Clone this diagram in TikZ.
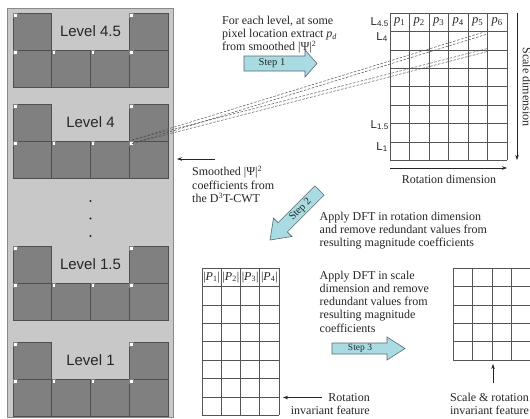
\documentclass[tikz,border=0pt]{standalone}
\usepackage{fontspec}
\setmainfont{Liberation Serif}
\newfontfamily\arialf{Liberation Sans}
\usetikzlibrary{arrows.meta}
\definecolor{panelfill}{HTML}{C8C8C8}
\definecolor{panelline}{HTML}{8A8A8A}
\definecolor{sqfill}{HTML}{808080}
\definecolor{sqline}{HTML}{4F4F4F}
\definecolor{stepfill}{HTML}{A8DCE2}
\definecolor{stepline}{HTML}{5A6A6C}
\definecolor{ink}{HTML}{262626}
\definecolor{gridline}{HTML}{555555}
\tikzset{
 sq/.style={draw=sqline, fill=sqfill, line width=0.7pt},
 mk/.style={draw=gray, fill=white, line width=0.4pt},
 lvl/.style={font=\arialf\fontsize{15}{18}\selectfont, text=ink, inner sep=0pt},
 txt/.style={font=\fontsize{12}{13.3}\selectfont, text=ink, inner sep=0pt, align=left},
 gridl/.style={draw=gridline, line width=0.6pt},
 steparrow/.style={draw=stepline, fill=stepfill, line width=0.6pt},
 steptxt/.style={font=\fontsize{10.5}{12}\selectfont, text=ink, inner sep=0pt},
 conn/.style={draw=ink, line width=0.6pt, -{Stealth[length=5pt,width=3.5pt]}},
 dsh/.style={draw=ink!80, line width=0.5pt, dash pattern=on 2.5pt off 1.5pt},
 lab/.style={font=\arialf\fontsize{11.5}{13}\selectfont, text=ink, inner sep=0pt, anchor=east},
 hdr/.style={font=\fontsize{12.5}{14}\selectfont, text=ink, inner sep=0pt},
}
\newcommand{\levelblock}[3]{%
  \foreach \i in {0,1,2,3} {\draw[sq] (13+\i*38.75,#1+37) rectangle ++(38.75,37);}
  \draw[sq] (13,#1) rectangle ++(38.75,37);
  \draw[sq] (129.25,#1) rectangle ++(38.75,37);
  \foreach \i in {0,1,2,3} {\draw[mk] (13.3+\i*38.75,#1+37.3) rectangle ++(3.6,3.6);}
  \draw[mk] (13.3,#1+0.3) rectangle ++(3.6,3.6);
  \draw[mk] (129.55,#1+0.3) rectangle ++(3.6,3.6);
  \node[lvl] (#2) at (90.5,#1+18.5) {#3};
}
\begin{document}
\begin{tikzpicture}[x=1pt,y=-1pt]
\useasboundingbox (0,0) rectangle (530,418);
\fill[white] (0,0) rectangle (530,418);
% left panel
\draw[fill=panelfill, draw=panelline, line width=0.8pt] (7,8) rectangle (173,417);
\levelblock{13}{lvA}{Level 4.5}
\levelblock{104}{lvB}{Level 4}
\levelblock{246}{lvC}{Level 1.5}
\levelblock{342}{lvD}{Level 1}
\foreach \y in {201,218.5,236} {\fill[ink] (90.5,\y) circle (1.2);}
% top matrix
\foreach \i in {0,...,6} {\draw[gridl] (390+\i*19.5,13) -- (390+\i*19.5,160.2);}
\foreach \j in {0,...,8} {\draw[gridl] (390,13+\j*18.4) -- (507,13+\j*18.4);}
\foreach \i in {1,...,6} {\node[hdr] (p\i) at (390+\i*19.5-9.75,22.2) {\textit{p}\textsubscript{\i}};}
\node[lab] (L45) at (389,22) {L\textsubscript{4.5}};
\node[lab] (L4) at (388,37) {L\textsubscript{4}};
\node[lab] (L15) at (389,125) {L\textsubscript{1.5}};
\node[lab] (L1) at (388,147) {L\textsubscript{1}};
% dimension arrows
\coordinate (sdA) at (517,13);
\coordinate (sdB) at (517,160);
\draw[conn] (sdA) -- (sdB);
\node[txt, rotate=-90] (sdim) at (527,87) {Scale dimension};
\coordinate (rdA) at (390,168);
\coordinate (rdB) at (507,168);
\draw[conn] (rdA) -- (rdB);
\node[txt, anchor=north] (rdim) at (449,175) {Rotation dimension};
% dashed projection lines
\coordinate (mA) at (132,140);
\coordinate (mB) at (132,143.5);
\coordinate (cA) at (487.5,31);
\coordinate (cB) at (487.5,34);
\coordinate (cC) at (487.5,48.5);
\coordinate (cD) at (487.5,51.5);
\draw[dsh] (mA) -- (cA);
\draw[dsh] (mB) -- (cB);
\draw[dsh] (mA) -- (cC);
\draw[dsh] (mB) -- (cD);
% step 1
\node[txt, anchor=north west] (t1) at (222,15.5) {For each level, at some\\pixel location extract \textit{p}\textsubscript{\textit{d}}\\from smoothed |Ψ|\textsuperscript{2}};
\draw[steparrow] (244,56) -- (305,56) -- (305,50) -- (317,63.5) -- (305,77) -- (305,71) -- (244,71) -- cycle;
\node[steptxt] (s1) at (272,63.5) {Step 1};
% smoothed coefficients
\coordinate (smA) at (215,159);
\coordinate (smB) at (177,159);
\draw[conn] (smA) -- (smB);
\node[txt, anchor=north west] (t2) at (192,166) {Smoothed |Ψ|\textsuperscript{2}\\coefficients from\\the D\textsuperscript{3}T-CWT};
% step 2
\draw[steparrow] (270,240) -- (291.9,236.5) -- (287.3,231.9) -- (324.1,195.1) -- (314.9,185.9) -- (278.1,222.7) -- (273.5,218.1) -- cycle;
\node[steptxt, rotate=45] (s2) at (300.5,209.5) {Step 2};
\node[txt, anchor=north west] (t3) at (319.5,211.5) {Apply DFT in rotation dimension\\and remove redundant values from\\resulting magnitude coefficients};
% bottom-left matrix
\foreach \i in {0,...,4} {\draw[gridl] (202+\i*19.25,268) -- (202+\i*19.25,415.2);}
\foreach \j in {0,...,8} {\draw[gridl] (202,268+\j*18.4) -- (279,268+\j*18.4);}
\foreach \i in {1,...,4} {\node[hdr, font=\fontsize{12}{14}\selectfont] (P\i) at (202+\i*19.25-9.625,277.2) {|\textit{P}\textsubscript{\i}|};}
% step 3
\node[txt, anchor=north west] (t4) at (319.5,270.5) {Apply DFT in scale\\dimension and remove\\redundant values from\\resulting magnitude\\coefficients};
\draw[steparrow] (332,343) -- (387,343) -- (387,337) -- (405,348.5) -- (387,360) -- (387,354) -- (332,354) -- cycle;
\node[steptxt, font=\fontsize{9.5}{11}\selectfont] (s3) at (360,348.5) {Step 3};
% rotation invariant feature
\coordinate (riA) at (322,397.5);
\coordinate (riB) at (283,397.5);
\draw[conn] (riA) -- (riB);
\node[txt, align=right, anchor=north east] (t5) at (370,393) {Rotation\\invariant feature};
% bottom-right matrix
\foreach \i in {0,...,4} {\draw[gridl] (453+\i*19.5,268) -- (453+\i*19.5,360);}
\foreach \j in {0,...,5} {\draw[gridl] (453,268+\j*18.4) -- (535,268+\j*18.4);}
\coordinate (srA) at (493,383);
\coordinate (srB) at (493,364);
\draw[conn] (srA) -- (srB);
\node[txt, align=center, anchor=north] (t6) at (489.5,393) {Scale \& rotation\\invariant feature};
\end{tikzpicture}
\end{document}
